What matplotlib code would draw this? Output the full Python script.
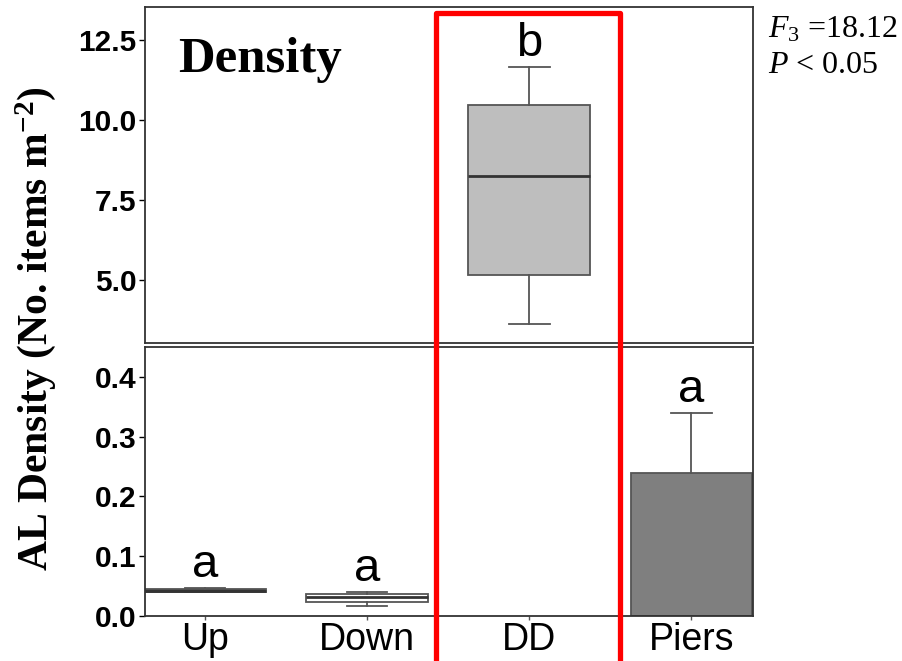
import matplotlib
matplotlib.use("Agg")
import matplotlib.pyplot as plt
from matplotlib.patches import Rectangle
from matplotlib.transforms import blended_transform_factory

plt.rcParams['mathtext.fontset'] = 'custom'
plt.rcParams['mathtext.rm'] = 'Liberation Serif'
plt.rcParams['mathtext.it'] = 'Liberation Serif:italic'
plt.rcParams['mathtext.bf'] = 'Liberation Serif:bold'

# Box summaries per site (No. items m-2)
sites = ["Up", "Down", "DD", "Piers"]
whislo = [0.040, 0.017, 3.63, 0.0]
q1 = [0.040, 0.024, 5.16, 0.0]
med = [0.042, 0.031, 8.25, 0.0]
q3 = [0.045, 0.036, 10.47, 0.240]
whishi = [0.046, 0.0395, 11.66, 0.340]
letters = ["a", "a", "b", "a"]
fills = ["#333333", "#ffffff", "#bebebe", "#7f7f7f"]

top_ticks = [5.0, 7.5, 10.0, 12.5]
bottom_ticks = [0.0, 0.1, 0.2, 0.3, 0.4]

stats = []
for i, s in enumerate(sites):
    stats.append(dict(label=s, whislo=whislo[i], q1=q1[i], med=med[i],
                      q3=q3[i], whishi=whishi[i], fliers=[]))

fig = plt.figure(figsize=(9.02, 6.61), dpi=100)
ax1 = fig.add_axes([0.1608, 0.4811, 0.674, 0.5083])
ax2 = fig.add_axes([0.1608, 0.0681, 0.674, 0.4069])

edge = "#555555"
for ax in (ax1, ax2):
    bp = ax.bxp(stats, positions=range(1, 5), widths=0.75, patch_artist=True,
                showfliers=False, capwidths=0.25,
                boxprops=dict(edgecolor=edge, linewidth=1.3),
                whiskerprops=dict(color=edge, linewidth=1.3),
                capprops=dict(color=edge, linewidth=1.3),
                medianprops=dict(color="#333333", linewidth=2))
    for patch, c in zip(bp['boxes'], fills):
        patch.set_facecolor(c)
    ax.set_xlim(0.63, 4.38)
    for sp in ax.spines.values():
        sp.set_color("#333333")
        sp.set_linewidth(1.3)
    ax.tick_params(axis='y', length=4, width=1, pad=2)

ax1.set_ylim(3.03, 13.53)
ax1.set_yticks(top_ticks)
ax1.set_yticklabels([f"{t:.1f}" for t in top_ticks], fontweight='bold',
                    family='Liberation Sans', fontsize=21.5)
ax1.set_xticks([])

ax2.set_ylim(0, 0.45)
ax2.set_yticks(bottom_ticks)
ax2.set_yticklabels([f"{t:.1f}" for t in bottom_ticks], fontweight='bold',
                    family='Liberation Sans', fontsize=21.5)
ax2.set_xticks(range(1, 5))
ax2.set_xticklabels(sites, family='Liberation Sans', fontsize=27)
ax2.tick_params(axis='x', length=3, width=1, pad=1, color="#555555")

# significance letters above the upper whiskers
for i, s in enumerate(sites):
    ax = ax1 if whislo[i] > 1 else ax2
    ax.annotate(letters[i], (i + 1, whishi[i]), xytext=(0, 8),
                textcoords='offset points', ha='center', va='baseline',
                fontsize=34, family='Liberation Sans')

ax1.text(0.054, 0.807, "Density", transform=ax1.transAxes, fontsize=36.5,
         fontweight='bold', family='Liberation Serif', va='baseline')

fig.text(0.039, 0.502, r"AL Density (No. items m$^{\mathbf{-2}}$)",
         rotation=90, ha='center', va='center', fontsize=30,
         fontweight='bold', family='Liberation Serif')

fig.text(0.851, 0.943, r"$\mathit{F}_3$ =18.12", fontsize=23,
         family='Liberation Serif', va='baseline')
fig.text(0.851, 0.890, r"$\mathit{P}$ < 0.05", fontsize=23,
         family='Liberation Serif', va='baseline')

# red frame highlighting the DD site across both panels
tr = blended_transform_factory(ax2.transData, fig.transFigure)
frame = Rectangle((2.423, -0.05), 3.559 - 2.423, 0.981 + 0.05, transform=tr,
                  fill=False, edgecolor="#ff0000", linewidth=3.8,
                  joinstyle='round', clip_on=False, zorder=10)
fig.add_artist(frame)

fig.savefig("out.png", dpi=100)
